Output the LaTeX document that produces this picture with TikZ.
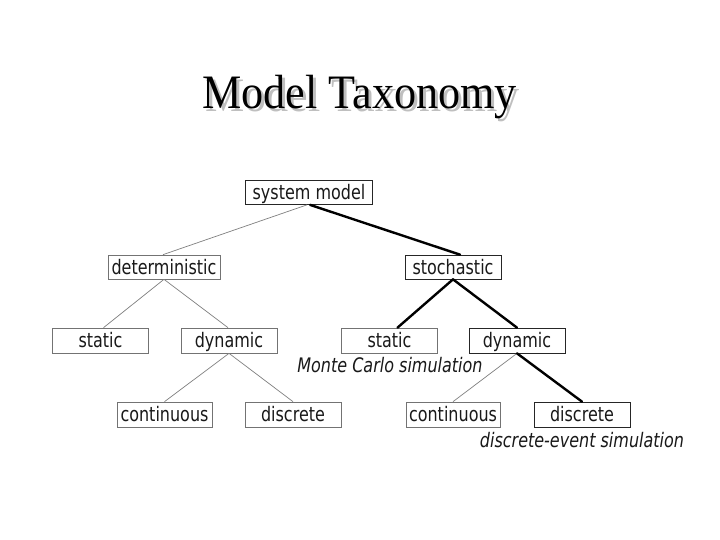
\documentclass[tikz,border=0pt]{standalone}
\usepackage{fontspec}
\setmainfont{Liberation Serif}[FakeStretch=0.92]
\newfontfamily\boxfont{DejaVu Sans}[FakeStretch=0.8]
\begin{document}
\begin{tikzpicture}[x=1pt,y=-1pt,
  box/.style={draw=black!55, line width=0.7pt, inner sep=0pt, minimum width=96pt, minimum height=25pt, text height=15pt, text depth=1pt, font=\boxfont\fontsize{20}{24}\selectfont, text=black!90},
  mainbox/.style={box, draw=black!85},
  thin/.style={draw=black!50, line width=0.7pt},
  thick/.style={draw=black, line width=2.4pt, line cap=round},
  lbl/.style={font=\boxfont\itshape\fontsize{20}{24}\selectfont, inner sep=0pt, anchor=base, text=black!90},
  ttl/.style={font=\fontsize{48}{54}\selectfont, inner sep=0pt, anchor=base}]
\useasboundingbox (0,0) rectangle (720,540);
\fill[white] (0,0) rectangle (720,540);
% title with shadow
\node[ttl, text=black!25] (tshadow) at (362.5,111.5) {Model Taxonomy};
\node[ttl] (title) at (359.5,109) {Model Taxonomy};
% nodes
\node[mainbox, minimum width=127pt, minimum height=24pt] (sys) at (309,192.5) {system model};
\node[box, minimum width=112pt, minimum height=24pt] (det) at (164,267) {deterministic};
\node[mainbox, minimum height=24pt] (sto) at (453,267) {stochastic};
\node[box] (sl) at (100.5,340.5) {static};
\node[box] (dl) at (229,340.5) {dynamic};
\node[box] (sr) at (389.5,340.5) {static};
\node[mainbox] (dr) at (517,340.5) {dynamic};
\node[box, minimum width=95pt] (cl) at (164.5,414.5) {continuous};
\node[box] (dcl) at (293,414.5) {discrete};
\node[box, minimum width=94pt] (cr) at (453,414.5) {continuous};
\node[mainbox] (dcr) at (582,414.5) {discrete};
\node[lbl] (mc) at (390,372.5) {Monte Carlo simulation};
\node[lbl] (des) at (582,447.5) {discrete-event simulation};
% connectors
\draw[thin] ([xshift=-2pt]sys.south) -- ([xshift=-1pt]det.north);
\draw[thick] ([xshift=1pt]sys.south) -- ([xshift=7pt]sto.north);
\draw[thin] (det.south) -- ([xshift=3pt]sl.north);
\draw[thin] (det.south) -- ([xshift=-1pt]dl.north);
\draw[thin] (dl.south) -- (cl.north);
\draw[thin] (dl.south) -- (dcl.north);
\draw[thick] (sto.south) -- ([xshift=8pt]sr.north);
\draw[thick] (sto.south) -- (dr.north);
\draw[thin] (dr.south) -- (cr.north);
\draw[thick] (dr.south) -- (dcr.north);
\end{tikzpicture}
\end{document}
